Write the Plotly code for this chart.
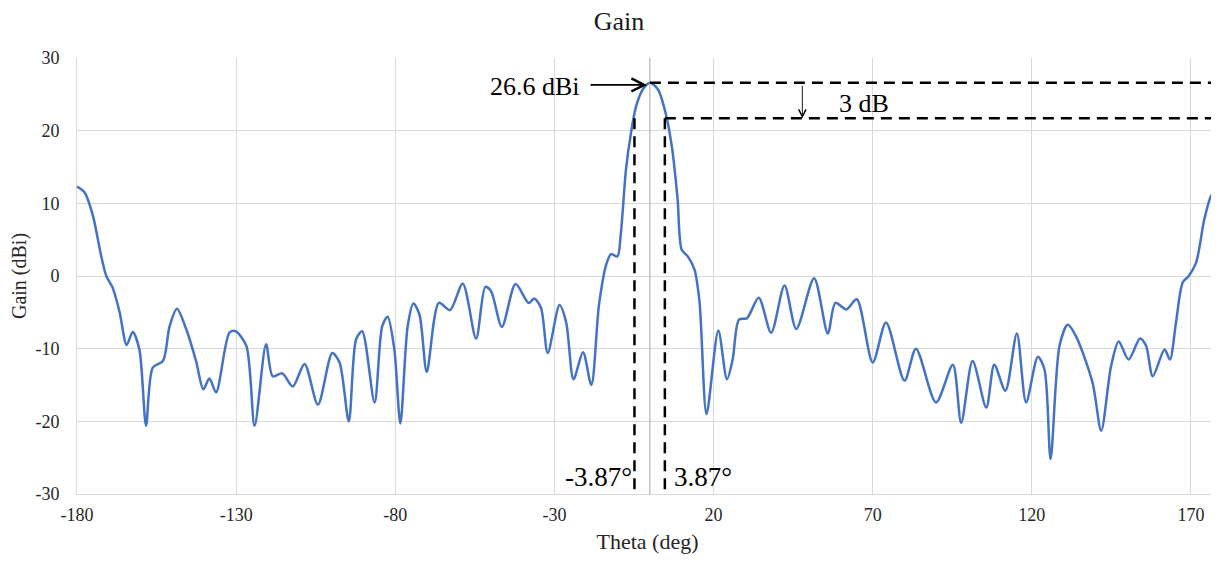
import plotly.graph_objects as go

theta = [-180, -177.6, -175.0, -172.4, -170.8, -168.8, -166.6, -164.4, -162.5, -160.4,
         -158.3, -156.2, -153.0, -150.9, -148.6, -145.7, -142.6, -140.3, -138.4, -136.3,
         -132.1, -130.2, -126.8, -124.2, -120.6, -118.5, -115.5, -112.2, -108.5, -104.3,
         -99.8, -97.5, -94.6, -92.3, -90.4, -86.5, -84.1, -82.4, -80.3, -78.4,
         -76.1, -74.3, -72.4, -70.1, -66.3, -62.8, -58.8, -54.6, -51.7, -49.9,
         -46.5, -42.2, -38.1, -36.3, -34.2, -32.1, -28.4, -26.3, -24.0, -21.0,
         -18.4, -16.0, -13.7, -12.2, -10.2, -9.2, -7.5, -5.9, -4.3, -2.2,
         0.0, 2.5, 4.9, 7.0, 8.7, 10.0, 11.9, 14.0, 15.6, 17.8,
         21.5, 24.2, 26.0, 28.0, 30.5, 34.2, 38.1, 42.3, 46.0, 51.6,
         55.9, 58.3, 61.7, 65.0, 70.0, 74.2, 80.0, 83.6, 89.9, 95.2,
         97.8, 101.4, 105.7, 108.2, 111.7, 115.3, 118.2, 121.9, 124.0, 125.9,
         128.7, 131.3, 133.9, 139.1, 141.8, 144.9, 147.3, 150.4, 154.0, 155.9,
         158.0, 161.7, 163.4, 165.3, 167.4, 169.3, 171.6, 174.2, 176.3, 178.4, 180]
gain = [12.3, 11.5, 8.3, 2.75, 0.0, -1.6, -5.0, -9.5, -7.7, -10.1,
        -20.6, -12.6, -11.7, -6.9, -4.5, -7.3, -11.7, -15.6, -14.1, -16.0,
        -7.8, -7.6, -9.6, -20.6, -9.4, -13.8, -13.4, -15.2, -12.1, -17.7,
        -10.6, -11.9, -20.0, -8.7, -7.6, -17.4, -6.9, -5.6, -10.1, -20.3,
        -6.9, -3.8, -5.3, -13.2, -3.7, -4.7, -1.05, -8.6, -1.5, -2.1,
        -7.0, -1.1, -3.7, -3.1, -4.4, -10.6, -4.0, -6.4, -14.2, -10.5,
        -15.0, -4.0, 1.6, 3.0, 2.7, 5.5, 14.7, 19.8, 23.4, 25.7,
        26.6, 25.7, 22.5, 17.5, 10.6, 3.6, 2.7, 0.9, -3.6, -19.0,
        -7.5, -14.2, -11.5, -6.0, -5.8, -3.0, -7.8, -1.3, -7.3, -0.3,
        -7.9, -3.7, -4.6, -3.2, -11.9, -6.4, -14.4, -10.0, -17.4, -12.2,
        -20.2, -11.7, -18.1, -12.2, -15.8, -7.9, -17.4, -11.1, -12.9, -25.2,
        -9.6, -6.7, -8.3, -14.7, -21.3, -12.4, -9.0, -11.5, -8.6, -9.6,
        -13.8, -10.1, -11.5, -6.4, -0.9, 0.0, 1.8, 7.8, 11.0, 12.2, 12.3]

x_tickvals = [-180, -130, -80, -30, 20, 70, 120, 170]
x_ticktext = ["-180", "-130", "-80", "-30", "20", "70", "120", "170"]
y_tickvals = [-30, -20, -10, 0, 10, 20, 30]
y_ticktext = ["-30", "-20", "-10", "0", "10", "20", "30"]

peak_gain = 26.6
level_3db = 21.7
beam_left = -4.85
beam_right = 4.7

SERIF = "Liberation Serif"

fig = go.Figure()
fig.add_trace(go.Scatter(x=theta, y=gain, mode="lines",
                         line=dict(color="#4472C4", width=2.5, shape="spline", smoothing=0.8),
                         showlegend=False, hoverinfo="skip"))

dash = "11px,7px"
shapes = [
    dict(type="line", xref="x", yref="y", x0=0, x1=0, y0=-30, y1=30,
         line=dict(color="#a6a6a6", width=1)),
    dict(type="line", xref="x", yref="y", x0=0, x1=180, y0=peak_gain, y1=peak_gain,
         line=dict(color="black", width=2.5, dash=dash)),
    dict(type="line", xref="x", yref="y", x0=beam_right, x1=180, y0=level_3db, y1=level_3db,
         line=dict(color="black", width=2.5, dash=dash)),
    dict(type="line", xref="x", yref="y", x0=beam_left, x1=beam_left, y0=level_3db, y1=-30.5,
         line=dict(color="black", width=2.5, dash=dash)),
    dict(type="line", xref="x", yref="y", x0=beam_right, x1=beam_right, y0=level_3db, y1=-30.5,
         line=dict(color="black", width=2.5, dash=dash)),
]

annotations = [
    dict(x=-0.9, y=26.3, xref="x", yref="y", ax=-58, ay=0, text="", showarrow=True,
         arrowhead=5, arrowsize=1.4, arrowwidth=1.8, arrowcolor="black"),
    dict(x=-36.0, y=26.1, xref="x", yref="y", text="26.6 dBi", showarrow=False,
         font=dict(family=SERIF, size=26, color="black")),
    dict(x=47.9, y=level_3db, xref="x", yref="y", ax=0, ay=-34, text="", showarrow=True,
         arrowhead=5, arrowsize=1.6, arrowwidth=0.9, arrowcolor="black"),
    dict(x=67.4, y=23.8, xref="x", yref="y", text="3 dB", showarrow=False,
         font=dict(family=SERIF, size=26, color="black")),
    dict(x=-16.3, y=-27.7, xref="x", yref="y", text="-3.87°", showarrow=False,
         font=dict(family=SERIF, size=27, color="black")),
    dict(x=16.8, y=-27.7, xref="x", yref="y", text="3.87°", showarrow=False,
         font=dict(family=SERIF, size=27, color="black")),
]

fig.update_layout(
    width=1211, height=546,
    margin=dict(l=69, r=1, t=50, b=60, autoexpand=False),
    paper_bgcolor="white", plot_bgcolor="white",
    title=dict(text="Gain", x=611 / 1211, xanchor="center", y=1 - 13 / 546, yanchor="middle",
               font=dict(family=SERIF, size=26, color="#1a1a1a")),
    shapes=shapes, annotations=annotations,
    xaxis=dict(range=[-180, 178.5], tickvals=x_tickvals, ticktext=x_ticktext,
               showgrid=True, automargin=False,
               gridcolor="#d9d9d9", gridwidth=1, zeroline=False,
               showline=True, linecolor="#d9d9d9",
               ticks="outside", ticklen=4, tickcolor="rgba(0,0,0,0)",
               tickfont=dict(family=SERIF, size=18, color="#262626"),
               title=dict(text="Theta (deg)", standoff=13,
                          font=dict(family=SERIF, size=22, color="#262626"))),
    yaxis=dict(range=[-30, 30], tickvals=y_tickvals, ticktext=y_ticktext,
               showgrid=True, automargin=False,
               gridcolor="#d9d9d9", gridwidth=1, zeroline=False,
               showline=True, linecolor="#d9d9d9", mirror=True,
               ticks="outside", ticklen=13, tickcolor="rgba(0,0,0,0)",
               tickfont=dict(family=SERIF, size=18, color="#262626"),
               title=dict(text="Gain (dBi)", standoff=8,
                          font=dict(family=SERIF, size=20, color="#262626"))),
)

fig.write_html("out.html")
